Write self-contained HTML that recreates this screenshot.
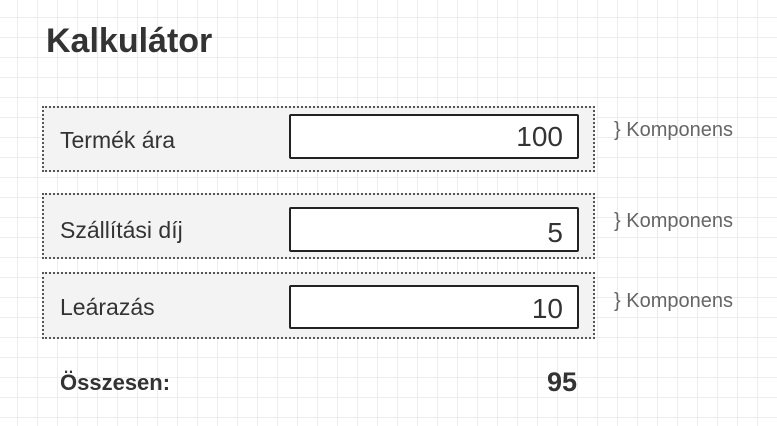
<!DOCTYPE html>
<html><head><meta charset="utf-8"><style>
body{margin:0;width:777px;height:426px;overflow:hidden;font-family:"Liberation Sans",sans-serif;color:#333;
background-color:#fff;background-image:linear-gradient(#ededed 1px,transparent 1px),linear-gradient(90deg,#ededed 1px,transparent 1px);background-size:20px 20px;background-position:-3px -3px;position:relative}
.a{position:absolute}
.box{position:absolute;left:42px;width:553px;background:#f3f3f3;border:2px dotted #555;box-sizing:border-box}
.lbl{position:absolute;left:60px;font-size:23px;color:#333}
.inp{position:absolute;left:289px;width:290px;background:#fff;border:2px solid #222;box-sizing:border-box;text-align:right;font-size:28px;padding-right:14px;border-radius:2px}
.k{position:absolute;left:614px;font-size:20px;color:#666}
</style></head><body>
<div class="a" style="left:46px;top:22px;font-size:34px;font-weight:bold;color:#333">Kalkulátor</div>

<div class="box" style="top:106px;height:66px"></div>
<div class="lbl" style="top:127px">Termék ára</div>
<div class="inp" style="top:114px;height:45px;line-height:42px">100</div>
<div class="k" style="top:119px">} Komponens</div>

<div class="box" style="top:193px;height:66px"></div>
<div class="lbl" style="top:217px">Szállítási díj</div>
<div class="inp" style="top:207px;height:45px;line-height:48px">5</div>
<div class="k" style="top:210px">} Komponens</div>

<div class="box" style="top:272px;height:67px"></div>
<div class="lbl" style="top:294px">Leárazás</div>
<div class="inp" style="top:285px;height:44px;line-height:44px">10</div>
<div class="k" style="top:290px">} Komponens</div>

<div class="a" style="left:60px;top:370px;font-size:22px;font-weight:bold">Összesen:</div>
<div class="a" style="left:500px;width:77px;text-align:right;top:367px;font-size:27px;font-weight:bold">95</div>
</body></html>
